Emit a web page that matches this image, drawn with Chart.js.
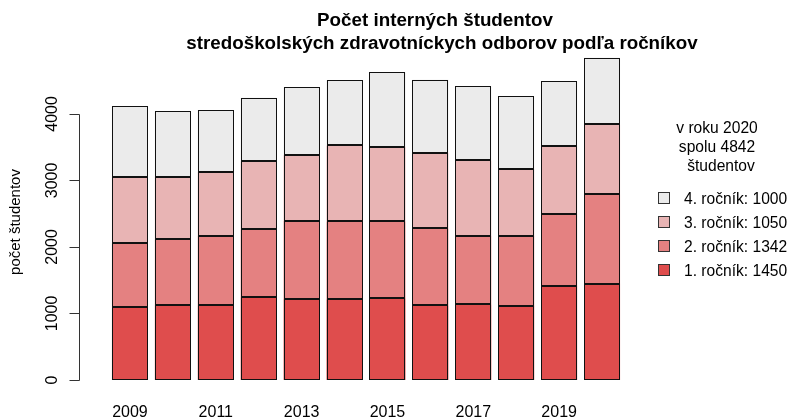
<!DOCTYPE html>
<html>
<head>
<meta charset="utf-8">
<script src="https://cdn.jsdelivr.net/npm/chart.js@4.4.1/dist/chart.umd.min.js"></script>
<style>
  html, body { margin: 0; padding: 0; background: #fff; }
  #wrap { width: 789px; height: 419px; }
</style>
</head>
<body>
<div id="wrap"><canvas id="chart" width="789" height="419"></canvas></div>
<script>
const years = ['2009', '2010', '2011', '2012', '2013', '2014', '2015', '2016', '2017', '2018', '2019', '2020'];
const rocnik1 = [1095, 1125, 1120, 1245, 1225, 1215, 1230, 1120, 1135, 1115, 1416, 1450];
const rocnik2 = [957, 992, 1043, 1018, 1163, 1168, 1153, 1158, 1033, 1048, 1082, 1342];
const rocnik3 = [998, 938, 967, 1022, 993, 1143, 1123, 1138, 1133, 1007, 1013, 1050];
const rocnik4 = [1067, 982, 927, 958, 1017, 978, 1118, 1098, 1112, 1093, 978, 1000];
const seriesNames = ['1. ročník', '2. ročník', '3. ročník', '4. ročník'];
const yTicks = [0, 1000, 2000, 3000, 4000];
const titleLines = ['Počet interných študentov', 'stredoškolských zdravotníckych odborov podľa ročníkov'];
const yTitle = 'počet študentov';

const colors = ['#DF4D4D', '#E48181', '#E8B4B4', '#EBEBEB'];
const FONT = '"Liberation Sans", Arial, sans-serif';

const series = [rocnik1, rocnik2, rocnik3, rocnik4];
const last = years.length - 1;
const total = series.reduce((s, arr) => s + arr[last], 0);
const legendTitle = ['v roku ' + years[last], 'spolu ' + total, 'študentov'];

// crisp black outlines on the bars (snapped to the pixel grid)
const barOutlines = {
  id: 'barOutlines',
  afterDatasetsDraw(chart) {
    const ctx = chart.ctx;
    ctx.save();
    ctx.strokeStyle = '#111';
    ctx.lineWidth = 1;
    chart.data.datasets.forEach((ds, i) => {
      chart.getDatasetMeta(i).data.forEach(bar => {
        const l = Math.round(bar.x - bar.width / 2) + 0.5;
        const r = Math.round(bar.x + bar.width / 2) - 0.5;
        const t = Math.round(bar.y) + 0.5;
        const b = Math.round(bar.base) - 0.5;
        ctx.strokeRect(l, t, r - l, b - t);
      });
    });
    ctx.restore();
  }
};

// R-style extras: axis line only across the ticks, rotated tick labels, title, legend on the right
const rExtras = {
  id: 'rExtras',
  afterDraw(chart) {
    const ctx = chart.ctx;
    const y = chart.scales.y;
    ctx.save();

    // y axis line + outward ticks
    const ax = 79.5;
    ctx.strokeStyle = '#333';
    ctx.lineWidth = 1;
    ctx.beginPath();
    ctx.moveTo(ax, Math.round(y.getPixelForValue(yTicks[0])) + 0.5);
    ctx.lineTo(ax, Math.round(y.getPixelForValue(yTicks[yTicks.length - 1])) + 0.5);
    yTicks.forEach(v => {
      const p = Math.round(y.getPixelForValue(v)) + 0.5;
      ctx.moveTo(ax - 10, p);
      ctx.lineTo(ax, p);
    });
    ctx.stroke();

    // tick labels, rotated like R's las=0
    ctx.fillStyle = '#000';
    ctx.textAlign = 'center';
    ctx.textBaseline = 'middle';
    ctx.font = '16px ' + FONT;
    yTicks.forEach(v => {
      ctx.save();
      ctx.translate(53, y.getPixelForValue(v));
      ctx.rotate(-Math.PI / 2);
      ctx.fillText(String(v), 0, 0);
      ctx.restore();
    });

    // y axis title
    ctx.font = '15px ' + FONT;
    ctx.save();
    ctx.translate(16, 222);
    ctx.rotate(-Math.PI / 2);
    ctx.fillText(yTitle, 0, 0);
    ctx.restore();

    // main title
    ctx.textBaseline = 'alphabetic';
    ctx.font = 'bold 18.8px ' + FONT;
    ctx.fillText(titleLines[0], 435, 26);
    ctx.fillText(titleLines[1], 442, 49);

    // legend title
    ctx.font = '15.6px ' + FONT;
    legendTitle.forEach((t, i) => ctx.fillText(t, i === 2 ? 721 : 717, 133 + i * 19));

    // legend items, top = 4. ročník
    ctx.textAlign = 'left';
    for (let i = 0; i < 4; i++) {
      const k = 3 - i;
      const cy = 198 + i * 24;
      ctx.fillStyle = colors[k];
      ctx.fillRect(658.5, cy - 5.5, 11, 11);
      ctx.strokeStyle = '#333';
      ctx.strokeRect(658.5, cy - 5.5, 11, 11);
      ctx.fillStyle = '#000';
      ctx.fillText(seriesNames[k] + ': ' + series[k][last], 684, cy + 6);
    }
    ctx.restore();
  }
};

const ctx = document.getElementById('chart').getContext('2d');
new Chart(ctx, {
  type: 'bar',
  data: {
    labels: years,
    datasets: series.map((d, i) => ({
      label: seriesNames[i],
      data: d,
      backgroundColor: colors[i],
      borderWidth: 0,
      categoryPercentage: 1,
      barPercentage: 0.84
    }))
  },
  options: {
    responsive: false,
    animation: false,
    devicePixelRatio: 1,
    layout: { padding: { top: 54, right: 165.5, left: 0, bottom: 0 } },
    plugins: { legend: { display: false }, title: { display: false }, tooltip: { enabled: false } },
    scales: {
      x: {
        stacked: true,
        grid: { display: false, drawTicks: false },
        border: { display: false },
        ticks: {
          autoSkip: false, maxRotation: 0, padding: 23, color: '#000',
          font: { family: FONT, size: 16 },
          callback: (v, i) => (i % 2 === 0 ? years[i] : '')
        },
        afterFit: s => { s.height = 39; }
      },
      y: {
        stacked: true,
        min: 0,
        max: 4900,
        grid: { display: false, drawTicks: false },
        border: { display: false },
        ticks: { display: false, stepSize: 1000 },
        afterFit: s => { s.width = 108.5; }
      }
    }
  },
  plugins: [barOutlines, rExtras]
});
</script>
</body>
</html>
